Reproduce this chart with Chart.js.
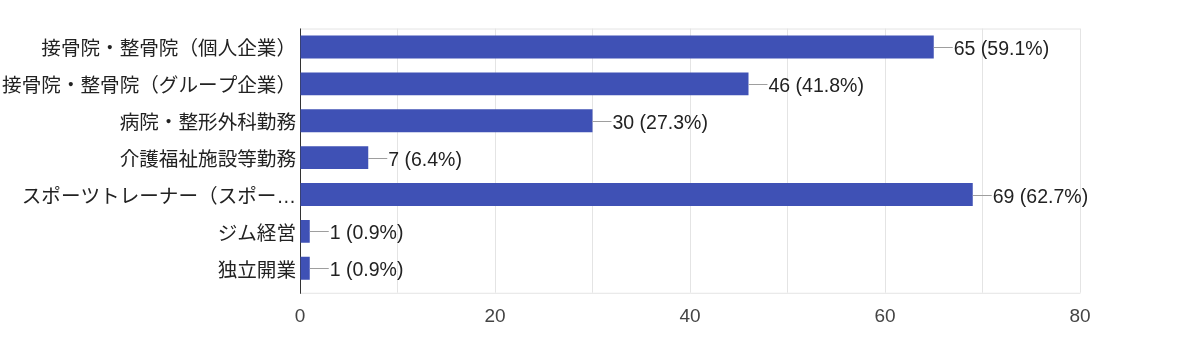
<!DOCTYPE html>
<html>
<head>
<meta charset="utf-8">
<script src="https://cdn.jsdelivr.net/npm/chart.js@4"></script>
<style>
  html, body { margin: 0; padding: 0; background: #fff; }
  #wrap { width: 1200px; height: 360px; }
</style>
</head>
<body>
<div id="wrap"><canvas id="c" width="1200" height="360"></canvas></div>
<script>
const categories = [
  "接骨院・整骨院（個人企業）",
  "接骨院・整骨院（グループ企業）",
  "病院・整形外科勤務",
  "介護福祉施設等勤務",
  "スポーツトレーナー（スポー…",
  "ジム経営",
  "独立開業"
];
const counts = [65, 46, 30, 7, 69, 1, 1];
const percents = ["59.1%", "41.8%", "27.3%", "6.4%", "62.7%", "0.9%", "0.9%"];
const xTicks = [0, 20, 40, 60, 80];

const FONT = "'Liberation Sans', Arial, 'Noto Sans CJK JP', sans-serif";
const GRID = '#e4e4e4';

const framePlugin = {
  id: 'frame',
  beforeDatasetsDraw(chart) {
    const { ctx, chartArea: a } = chart;
    const ext = 6;
    ctx.save();
    ctx.lineWidth = 1;
    ctx.strokeStyle = GRID;
    ctx.beginPath();
    ctx.moveTo(a.left, a.top + 0.5); ctx.lineTo(a.right, a.top + 0.5);
    ctx.moveTo(a.left, a.bottom + ext + 0.5); ctx.lineTo(a.right + 0.5, a.bottom + ext + 0.5);
    ctx.stroke();
    ctx.strokeStyle = '#333';
    ctx.beginPath();
    ctx.moveTo(a.left + 0.5, a.top); ctx.lineTo(a.left + 0.5, a.bottom + ext + 1);
    ctx.stroke();
    ctx.restore();
  },
  afterDatasetsDraw(chart) {
    const { ctx } = chart;
    const meta = chart.getDatasetMeta(0);
    ctx.save();
    ctx.font = "19.5px " + FONT;
    ctx.textBaseline = 'middle';
    ctx.textAlign = 'left';
    meta.data.forEach((el, i) => {
      const x = el.x, y = Math.round(el.y) + 0.5;
      ctx.strokeStyle = '#9e9e9e';
      ctx.lineWidth = 1;
      ctx.beginPath();
      ctx.moveTo(x, y); ctx.lineTo(x + 19, y);
      ctx.stroke();
      ctx.fillStyle = '#222';
      ctx.fillText(counts[i] + " (" + percents[i] + ")", x + 20, y + 2.5);
    });
    ctx.restore();
  }
};

new Chart(document.getElementById('c'), {
  type: 'bar',
  data: {
    labels: categories,
    datasets: [{
      data: counts,
      backgroundColor: '#3f51b5',
      borderWidth: 0,
      barPercentage: 0.62,
      categoryPercentage: 1.0
    }]
  },
  options: {
    indexAxis: 'y',
    responsive: false,
    animation: false,
    devicePixelRatio: 1,
    layout: { padding: { left: 0, right: 120, top: 28.5, bottom: 0 } },
    plugins: { legend: { display: false }, tooltip: { enabled: false } },
    scales: {
      x: {
        min: 0, max: 80,
        afterFit(s) { s.height = 73.25; },
        afterBuildTicks(s) {
          const t = [];
          for (let v = 0; v <= 80; v += 10) t.push({ value: v });
          s.ticks = t;
        },
        ticks: {
          autoSkip: false,
          maxRotation: 0,
          padding: 13,
          color: '#444',
          font: { family: FONT, size: 19 },
          callback: (v) => xTicks.includes(v) ? String(v) : ''
        },
        grid: { color: GRID, drawTicks: true, tickLength: 6, tickColor: GRID },
        border: { display: false }
      },
      y: {
        afterFit(s) { s.width = 300; },
        ticks: {
          padding: 4,
          labelOffset: 3,
          color: '#222',
          font: { family: FONT, size: 19.6 }
        },
        grid: { display: false, drawTicks: false },
        border: { display: false }
      }
    }
  },
  plugins: [framePlugin]
});
</script>
</body>
</html>
